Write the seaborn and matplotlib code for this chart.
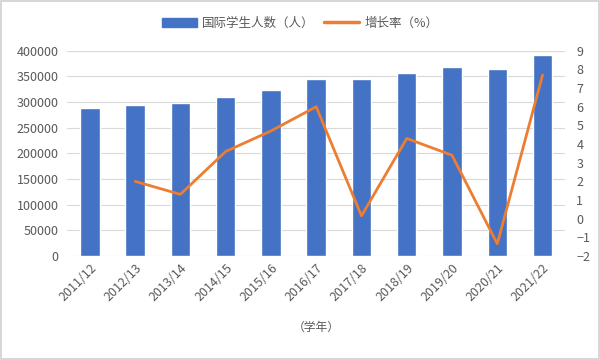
import numpy as np
import pandas as pd
import seaborn as sns
import matplotlib.pyplot as plt
from matplotlib.lines import Line2D
from matplotlib.patches import Patch

# data
years = ['2011/12', '2012/13', '2013/14', '2014/15', '2015/16', '2016/17',
         '2017/18', '2018/19', '2019/20', '2020/21', '2021/22']
students = [289000, 295000, 299000, 309000, 324000, 344000,
            344000, 357000, 369000, 365000, 391000]
growth = [np.nan, 2.0, 1.3, 3.6, 4.7, 6.0, 0.15, 4.3, 3.4, -1.35, 7.7]

df = pd.DataFrame({'year': years, 'students': students, 'growth': growth})

sns.set_style('white')
plt.rcParams['font.family'] = ['Noto Sans CJK SC', 'DejaVu Sans']

fig = plt.figure(figsize=(6, 3.6), dpi=100)
ax = fig.add_axes([0.112, 0.289, 0.830, 0.570])

blue = '#4472C4'
orange = '#ED7D31'
grey = '#595959'

sns.barplot(data=df, x='year', y='students', color=blue, width=0.43,
            saturation=1, ax=ax, zorder=2)
ax.set_ylim(0, 400000)
ax.set_yticks(range(0, 400001, 50000))
ax.grid(axis='y', color='#D9D9D9', linewidth=0.8, zorder=0)
ax.set_xlabel('（学年）', fontsize=8.5, color=grey, labelpad=12)
ax.set_ylabel('')
ax.tick_params(axis='y', labelsize=9, labelcolor=grey, length=0, pad=6)
ax.tick_params(axis='x', labelsize=9, labelcolor=grey, length=0, pad=4)
plt.setp(ax.get_xticklabels(), rotation=45, ha='right', rotation_mode='anchor')
for s in ax.spines.values():
    s.set_visible(False)

ax2 = ax.twinx()
sns.lineplot(data=df, x='year', y='growth', color=orange, linewidth=2,
             ax=ax2, sort=False)
ax2.set_ylim(-2, 9)
ax2.set_yticks(range(-2, 10))
ax2.set_ylabel('')
ax2.set_xlabel('')
ax2.tick_params(axis='y', labelsize=9, labelcolor=grey, length=0, pad=8)
for s in ax2.spines.values():
    s.set_visible(False)
ax.set_xlim(-0.5, len(years) - 0.5)

handles = [Patch(color=blue), Line2D([], [], color=orange, linewidth=2.5)]
fig.legend(handles, ['国际学生人数（人）', '增长率（%）'], loc='upper center',
           bbox_to_anchor=(0.5, 0.985), ncol=2, frameon=False, fontsize=9,
           labelcolor=grey, handlelength=2.8, columnspacing=0.8,
           handletextpad=0.4)

fig.patches.append(plt.Rectangle((0.002, 0.003), 0.996, 0.994,
                                 transform=fig.transFigure, fill=False,
                                 edgecolor='#D0D0D0', linewidth=1.2))

fig.savefig('out.png', dpi=100)
